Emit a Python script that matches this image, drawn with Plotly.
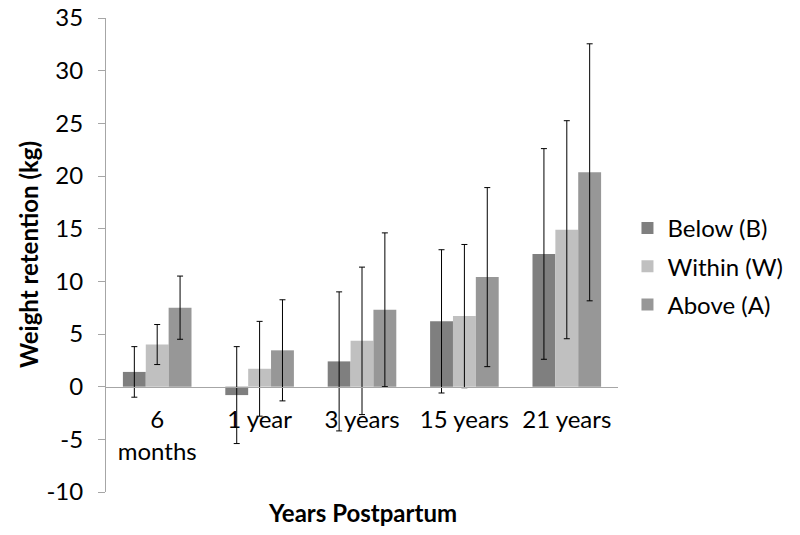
import plotly.graph_objects as go

categories = ["6<br>months", "1 year", "3 years", "15 years", "21 years"]
series_names = ["Below (B)", "Within (W)", "Above (A)"]
below = [1.4, -0.8, 2.4, 6.2, 12.6]
below_err = [2.4, 4.6, 6.6, 6.8, 10.0]
within = [4.0, 1.7, 4.35, 6.7, 14.9]
within_err = [1.9, 4.5, 7.0, 6.8, 10.35]
above = [7.5, 3.45, 7.3, 10.4, 20.35]
above_err = [3.0, 4.8, 7.3, 8.5, 12.2]
y_ticks = [-10, -5, 0, 5, 10, 15, 20, 25, 30, 35]
y_ticktext = [str(v) for v in y_ticks]

colors = ["#7f7f7f", "#c0c0c0", "#979797"]
FONT = "Lato, 'Open Sans', sans-serif"

fig = go.Figure()
for name, vals, errs, col in zip(series_names, [below, within, above],
                                 [below_err, within_err, above_err], colors):
    fig.add_trace(go.Bar(
        x=categories, y=vals, name=name, legendgroup=name,
        marker=dict(color=col, line=dict(width=0)),
        error_y=dict(type="data", array=errs, visible=True,
                     color="black", thickness=1, width=3),
    ))

ymin, ymax = -10, 35
fig.update_layout(
    width=800, height=535,
    margin=dict(l=106, r=182, t=18, b=43, autoexpand=False),
    paper_bgcolor="white", plot_bgcolor="white",
    barmode="group", bargap=0.33, bargroupgap=0,
    font=dict(family=FONT, size=24, color="black"),
    showlegend=True,
    legend=dict(x=1.0185, xanchor="left", y=0.476, yanchor="middle",
                font=dict(family=FONT, size=24, color="black"),
                tracegroupgap=4, bgcolor="rgba(0,0,0,0)"),
    xaxis=dict(
        anchor="free", position=(0 - ymin) / (ymax - ymin),
        automargin=False,
        showline=True, linecolor="#a6a6a6", linewidth=1,
        ticks="", showgrid=False, zeroline=False, ticklabelstandoff=12,
        tickfont=dict(family=FONT, size=24, color="black"),
    ),
    yaxis=dict(
        range=[ymin, ymax], tickvals=y_ticks, ticktext=y_ticktext,
        automargin=False, ticklabeloverflow="allow",
        showline=True, linecolor="#a6a6a6", linewidth=1,
        ticks="outside", ticklen=7, tickcolor="#a6a6a6",
        ticklabelstandoff=10,
        showgrid=False, zeroline=False,
        tickfont=dict(family=FONT, size=24, color="black"),
    ),
    annotations=[
        dict(text="<b>Years Postpartum</b>", xref="paper", yref="paper",
             x=0.5, y=0, yshift=-20, showarrow=False, xanchor="center",
             yanchor="middle", font=dict(family=FONT, size=24, color="black")),
        dict(text="<b>Weight retention (kg)</b>", xref="paper", yref="paper",
             x=0, xshift=-78, y=0.5, showarrow=False, textangle=-90,
             xanchor="center", yanchor="middle",
             font=dict(family=FONT, size=24, color="black")),
    ],
)

fig.write_html("out.html", config={"displayModeBar": False},
               post_script="document.body.style.margin='0';")
